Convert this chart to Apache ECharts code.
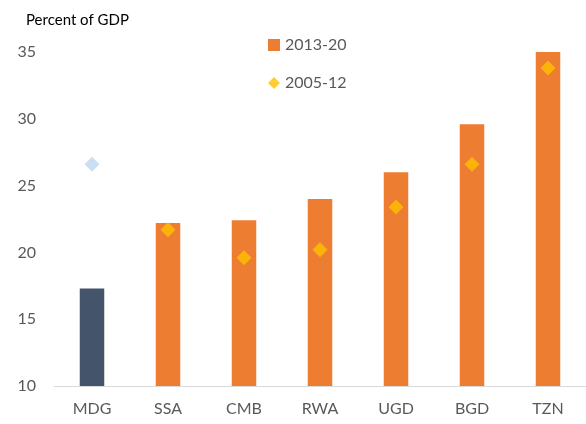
<!DOCTYPE html>
<html>
<head>
<meta charset="utf-8">
<script src="https://cdn.jsdelivr.net/npm/echarts@6/dist/echarts.min.js"></script>
<style>
  html, body { margin: 0; padding: 0; background: #fff; }
  #chart { width: 586px; height: 424px; }
</style>
</head>
<body>
<div id="chart"></div>
<script>
// Tax revenue, percent of GDP
const categories = ['MDG', 'SSA', 'CMB', 'RWA', 'UGD', 'BGD', 'TZN'];
const recent = [17.3, 22.2, 22.4, 24.0, 26.0, 29.6, 35.0];   // 2013-20
const earlier = [26.6, 21.7, 19.6, 20.2, 23.4, 26.6, 33.8];  // 2005-12
const yTicks = [10, 15, 20, 25, 30, 35];

const ORANGE = '#ED7D31';
const SLATE = '#44546A';
const GOLD = '#FFC000';
const PALE_BLUE = '#BDD7EE';
const TEXT = '#595959';
const FONT = 'Lato, "Open Sans", sans-serif';

const chart = echarts.init(document.getElementById('chart'));

chart.setOption({
  animation: false,
  textStyle: { fontFamily: FONT },
  title: {
    text: 'Percent of GDP',
    left: 21,
    top: 8,
    textStyle: { fontFamily: FONT, fontSize: 15, fontWeight: 'normal', color: '#000' }
  },
  legend: {
    orient: 'vertical',
    left: 263,
    top: 32,
    itemGap: 22,
    itemWidth: 12,
    itemHeight: 12,
    textStyle: { fontFamily: FONT, fontSize: 16, color: TEXT },
    data: [
      { name: '2013-20', icon: 'rect' },
      { name: '2005-12', icon: 'diamond' }
    ]
  },
  grid: { left: 54, right: -6, top: 52, bottom: 38, containLabel: false },
  xAxis: {
    type: 'category',
    data: categories,
    axisLine: { lineStyle: { color: '#D9D9D9', width: 1 } },
    axisTick: { show: false },
    axisLabel: { fontFamily: FONT, fontSize: 16, color: TEXT, margin: 15 }
  },
  yAxis: {
    type: 'value',
    min: yTicks[0],
    max: yTicks[yTicks.length - 1],
    interval: 5,
    splitLine: { show: false },
    axisLine: { show: false },
    axisTick: { show: false },
    axisLabel: { fontFamily: FONT, fontSize: 16, color: TEXT, margin: 18 }
  },
  series: [
    {
      name: '2013-20',
      type: 'bar',
      barWidth: 24.5,
      itemStyle: { color: ORANGE },
      data: recent.map((v, i) => i === 0 ? { value: v, itemStyle: { color: SLATE } } : v),
      z: 2
    },
    {
      name: '2005-12',
      type: 'scatter',
      symbol: 'diamond',
      symbolSize: 15,
      itemStyle: { color: GOLD },
      data: earlier.map((v, i) => i === 0 ? { value: v, itemStyle: { color: PALE_BLUE } } : v),
      z: 3
    }
  ]
});
</script>
</body>
</html>
